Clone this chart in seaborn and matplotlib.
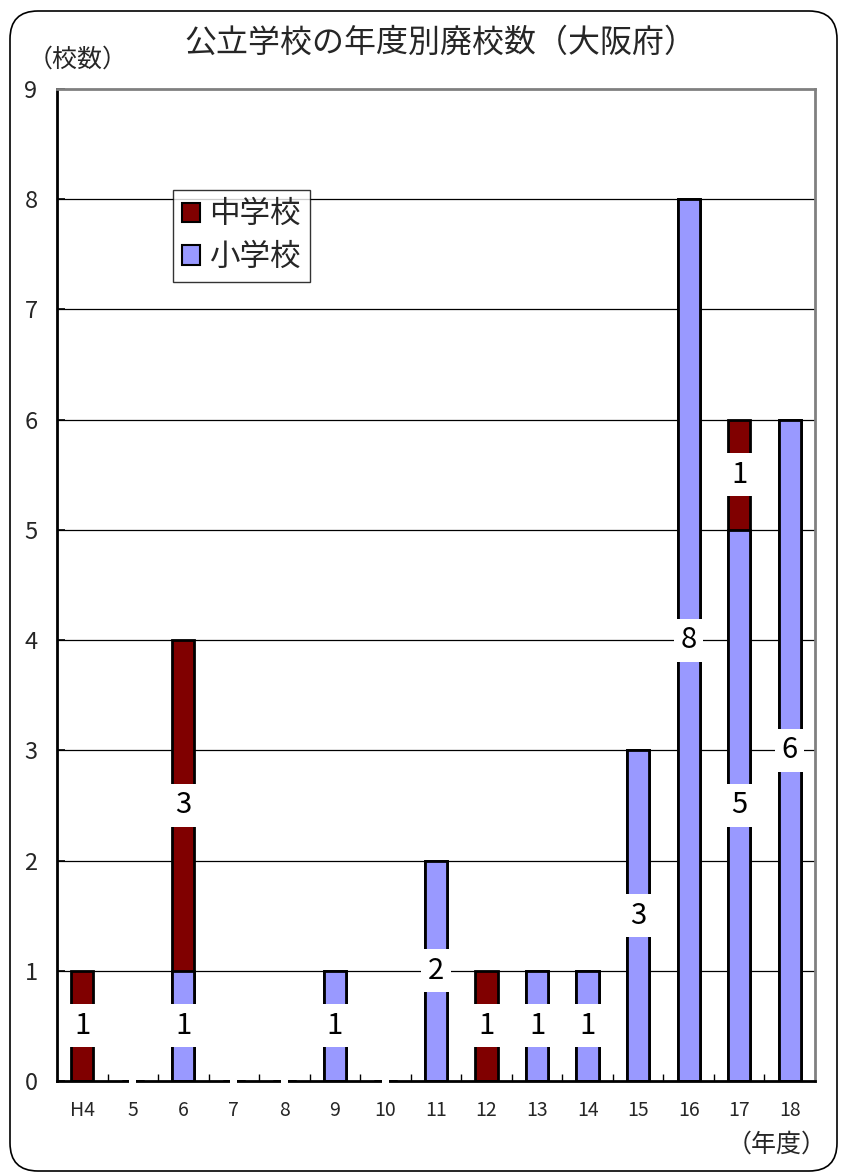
import numpy as np
import pandas as pd
import matplotlib
matplotlib.use("Agg")
import matplotlib.pyplot as plt
import seaborn as sns
from matplotlib.patches import Patch, FancyBboxPatch
from matplotlib.transforms import IdentityTransform

years = ["H4", "5", "6", "7", "8", "9", "10", "11", "12", "13", "14", "15", "16", "17", "18"]
elementary = [0, 0, 1, 0, 0, 1, 0, 2, 0, 1, 1, 3, 8, 5, 6]   # 小学校
junior = [1, 0, 3, 0, 0, 0, 0, 0, 1, 0, 0, 0, 0, 1, 0]       # 中学校

title = "公立学校の年度別廃校数（大阪府）"
ylabel = "（校数）"
xlabel = "（年度）"
series_names = ["中学校", "小学校"]
c_junior = "#800000"
c_elem = "#9999FF"

sns.set_theme(style="white")
plt.rcParams["font.family"] = ["Noto Sans CJK JP", "DejaVu Sans"]

W, H = 841, 1175
fig = plt.figure(figsize=(W / 100, H / 100), dpi=100)
ax = fig.add_axes([57 / W, 1 - 1081 / H, (815 - 57) / W, (1081 - 89) / H])

df = pd.DataFrame({"year": years, "elem": elementary, "junior": junior})
df["total"] = df["elem"] + df["junior"]

bw = 0.44
sns.barplot(data=df, x="year", y="total", order=years, color=c_junior, saturation=1,
            edgecolor="black", linewidth=2, width=bw, ax=ax, zorder=2)
sns.barplot(data=df, x="year", y="elem", order=years, color=c_elem, saturation=1,
            edgecolor="black", linewidth=2, width=bw, ax=ax, zorder=2)

ax.set_ylim(0, 9)
ax.set_xlim(-0.5, len(years) - 0.5)
ax.set_yticks(range(0, 10))
ax.set_yticklabels([str(i) for i in range(0, 10)], fontsize=17)
ax.set_xticks(range(len(years)))
ax.set_xticklabels(years, fontsize=14)
ax.set_xlabel("")
ax.set_ylabel("")
ax.tick_params(axis="x", length=0, pad=14)
ax.tick_params(axis="y", direction="in", length=6, width=1.2, color="black", pad=14, left=True)
# category boundary ticks
ax.set_xticks(np.arange(0.5, len(years) - 0.5, 1), minor=True)
ax.tick_params(axis="x", which="minor", direction="in", length=5, width=1, color="black", bottom=True)

for y in range(1, 9):
    ax.axhline(y, color="black", linewidth=0.9, zorder=1)

for s in ["left", "bottom"]:
    ax.spines[s].set_color("black")
    ax.spines[s].set_linewidth(2)
for s in ["top", "right"]:
    ax.spines[s].set_color("#808080")
    ax.spines[s].set_linewidth(2)

# data labels
lab_kw = dict(ha="center", va="center", fontsize=21, color="black", zorder=5,
              bbox=dict(boxstyle="square,pad=0.22", fc="white", ec="none"))
for i, (e, j) in enumerate(zip(elementary, junior)):
    if e > 0:
        ax.text(i, e / 2, str(e), **lab_kw)
    if j > 0:
        ax.text(i, e + j / 2, str(j), **lab_kw)
    if e == 0 and j == 0:
        ax.text(i, 0, " ", ha="center", va="center", fontsize=6, zorder=5,
                bbox=dict(boxstyle="square,pad=0.3", fc="white", ec="none"))

handles = [Patch(facecolor=c_junior, edgecolor="black", linewidth=1.5, label=series_names[0]),
           Patch(facecolor=c_elem, edgecolor="black", linewidth=1.5, label=series_names[1])]
leg = ax.legend(handles=handles, loc="upper left", bbox_to_anchor=(0.153, 0.898),
                fontsize=22, frameon=True, fancybox=False, handlelength=0.6, handleheight=0.6,
                handletextpad=0.28, borderpad=0.3, labelspacing=0.38, borderaxespad=0)
leg.get_frame().set_edgecolor("black")
leg.get_frame().set_linewidth(1)
leg.set_zorder(6)

fig.text(440 / W, 1 - 43 / H, title, ha="center", va="center", fontsize=23)
fig.text(78 / W, 1 - 60 / H, ylabel, ha="center", va="center", fontsize=18)
fig.text(777 / W, 1 - 1145 / H, xlabel, ha="center", va="center", fontsize=18)

border = FancyBboxPatch((10, 4), 827, 1160, boxstyle="round,pad=0,rounding_size=28",
                        transform=IdentityTransform(), fc="none", ec="black", lw=1.2)
fig.patches.append(border)

fig.savefig("out.png", dpi=100)
